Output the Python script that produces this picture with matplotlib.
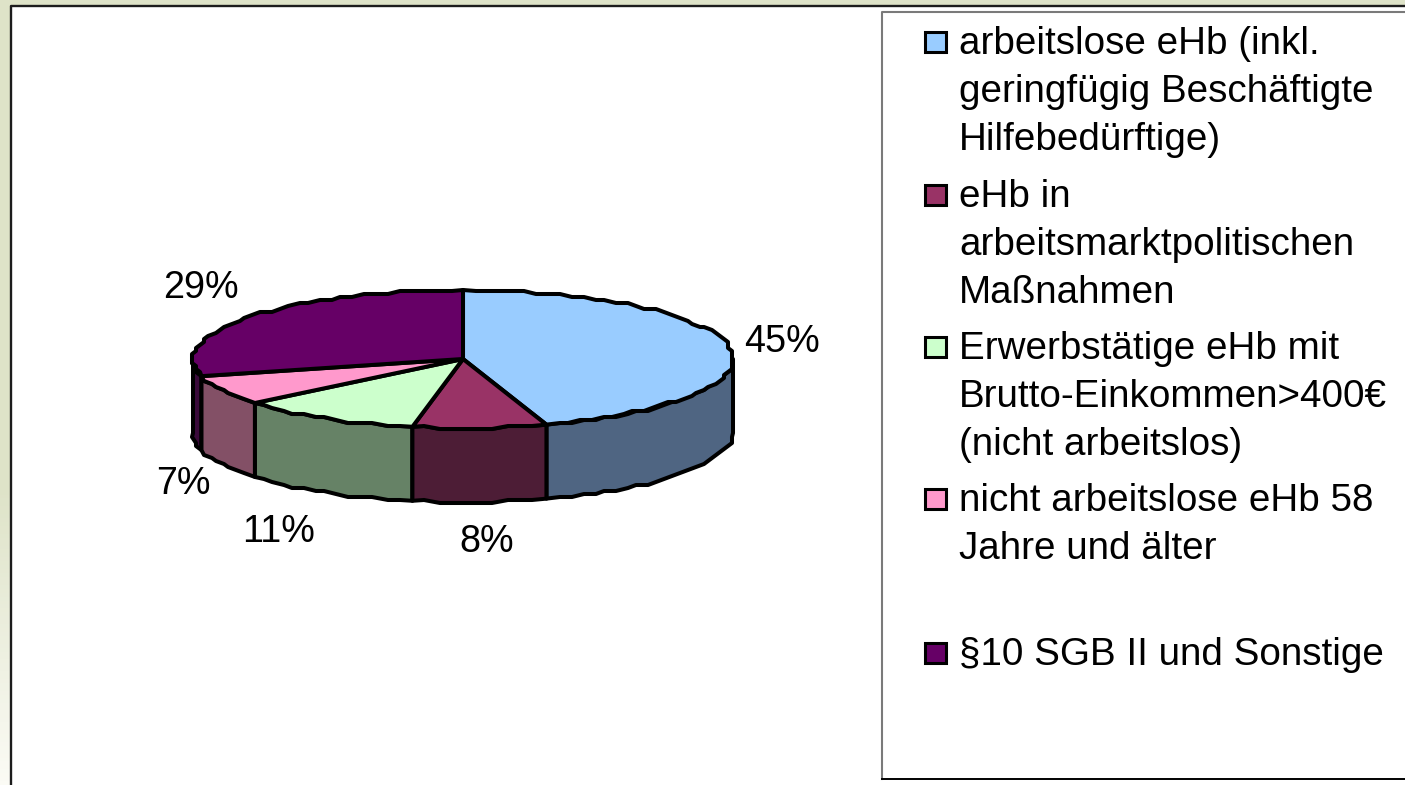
import numpy as np
import matplotlib
matplotlib.use("Agg")
import matplotlib.pyplot as plt
from matplotlib.patches import Polygon, Rectangle

# --- data ---
categories = [
    "arbeitslose eHb (inkl.\ngeringfügig Beschäftigte\nHilfebedürftige)",
    "eHb in\narbeitsmarktpolitischen\nMaßnahmen",
    "Erwerbstätige eHb mit\nBrutto-Einkommen>400€\n(nicht arbeitslos)",
    "nicht arbeitslose eHb 58\nJahre und älter",
    "§10 SGB II und Sonstige",
]
shares = [45, 8, 11, 7, 29]

# --- styles ---
top_colors = ["#99ccff", "#993366", "#ccffcc", "#ff99cc", "#660066"]
side_colors = ["#4f6582", "#4d1d36", "#668266", "#835066", "#3a0a3a"]
label_pos = [(782, 342.5), (487, 542.5), (279, 532.5), (183, 484.5), (201, 288.5)]
legend_first_baseline = [54, 207, 359, 511, 665]
LINE_STEP = 47.8
FONT_PT = 27.8
LABEL_PT = 27.2
CX, CY, RX, RY, DEPTH = 463, 359, 270, 69, 74
EDGE_LW = 2.9

plt.rcParams["font.family"] = ["Liberation Sans", "DejaVu Sans"]
fig = plt.figure(figsize=(14.05, 7.85), dpi=100)
ax = fig.add_axes([0, 0, 1, 1])
ax.set_xlim(0, 1405)
ax.set_ylim(785, 0)
ax.axis("off")

# background
grad_y = np.linspace(0, 1, 200)
c0 = np.array([0xde, 0xe3, 0xc8]) / 255
c1 = np.array([0xfb, 0xfb, 0xf5]) / 255
t = np.clip((grad_y - 0.62) / 0.38, 0, 1)[:, None]
img = (c0 * (1 - t) + c1 * t)[:, None, :]
ax.imshow(img, extent=(0, 1405, 785, 0), aspect="auto", zorder=0)
ax.set_xlim(0, 1405)
ax.set_ylim(785, 0)
ax.add_patch(Rectangle((10.5, 6), 1400, 800, fc="white", ec="none", zorder=1))
ax.plot([10.5, 10.5, 1405], [790, 6, 6], color="#1c1c1c", lw=1.7, zorder=2)

# legend box
ax.add_patch(Rectangle((881.5, 12), 600, 767, fc="white", ec="none", zorder=2))
ax.plot([1405, 881.5, 881.5], [12, 12, 779], color="#7a7a7a", lw=1.5, zorder=3)
ax.plot([881.5, 1405], [779, 779], color="#000000", lw=1.4, zorder=3)


def arc(a0, a1, dy=0.0):
    n = max(2, int(abs(a1 - a0) / np.radians(2.6)))
    a = np.linspace(a0, a1, n)
    x = CX + RX * np.sin(a)
    y = CY - RY * np.cos(a)
    jx, jy = np.round(x / 4) * 4, np.round(y / 3) * 3
    jx[0], jy[0], jx[-1], jy[-1] = x[0], y[0], x[-1], y[-1]
    return jx, jy + dy


edges = 2 * np.pi * np.concatenate([[0], np.cumsum(shares)]) / np.sum(shares)
front = [np.pi / 2, 3 * np.pi / 2]

# side walls
for i in sorted(range(len(shares)), key=lambda k: -abs(np.pi - (edges[k] + edges[k + 1]) / 2)):
    a0 = max(edges[i], front[0])
    a1 = min(edges[i + 1], front[1])
    if a1 <= a0:
        continue
    xt, yt = arc(a0, a1)
    xb, yb = arc(a0, a1, DEPTH)
    pts = np.column_stack([np.r_[xt, xb[::-1]], np.r_[yt, yb[::-1]]])
    ax.add_patch(Polygon(pts, closed=True, fc=side_colors[i], ec="black",
                         lw=EDGE_LW, joinstyle="round", zorder=4))

# top slices
for i in range(len(shares)):
    xt, yt = arc(edges[i], edges[i + 1])
    pts = np.column_stack([np.r_[CX, xt], np.r_[CY, yt]])
    ax.add_patch(Polygon(pts, closed=True, fc=top_colors[i], ec="black",
                         lw=EDGE_LW, joinstyle="round", zorder=5))

# percent labels
for v, (x, y) in zip(shares, label_pos):
    ax.text(x, y, f"{v}%", ha="center", va="center", fontsize=LABEL_PT, color="black", zorder=6)

# legend
for cat, col, base in zip(categories, top_colors, legend_first_baseline):
    ax.add_patch(Rectangle((925, base - 22), 21, 20, fc=col, ec="black", lw=2.2, zorder=6))
    for j, line in enumerate(cat.split("\n")):
        ax.text(959, base + j * LINE_STEP, line, ha="left", va="baseline",
                fontsize=FONT_PT, color="black", zorder=6)

fig.savefig("out.png", dpi=100)
